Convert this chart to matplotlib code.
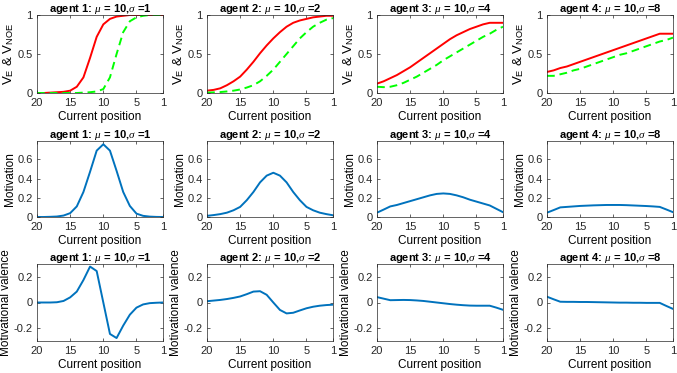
import matplotlib
matplotlib.use("Agg")
import matplotlib.pyplot as plt

plt.rcParams['font.family'] = ['Liberation Sans', 'DejaVu Sans']
plt.rcParams['mathtext.fontset'] = 'custom'
plt.rcParams['mathtext.it'] = 'Liberation Serif:italic'
plt.rcParams['mathtext.rm'] = 'Liberation Sans'

positions = list(range(20, 0, -1))  # 20 .. 1
sigmas = [1, 2, 4, 8]
mu = 10

# V_E (red, solid)
v_e = [
    [0.0, 0.0, 0.005, 0.01, 0.015, 0.03, 0.08, 0.2, 0.45, 0.72, 0.88, 0.95, 0.98, 0.99, 1.0, 1.0, 1.0, 1.0, 1.0, 1.0],
    [0.03, 0.04, 0.06, 0.1, 0.15, 0.21, 0.3, 0.4, 0.51, 0.61, 0.7, 0.78, 0.85, 0.9, 0.93, 0.95, 0.97, 0.98, 0.99, 0.99],
    [0.12, 0.15, 0.19, 0.23, 0.28, 0.33, 0.39, 0.45, 0.51, 0.57, 0.63, 0.69, 0.74, 0.78, 0.82, 0.85, 0.88, 0.9, 0.9, 0.9],
    [0.27, 0.29, 0.32, 0.34, 0.37, 0.40, 0.43, 0.46, 0.49, 0.52, 0.55, 0.58, 0.61, 0.64, 0.67, 0.70, 0.73, 0.76, 0.76, 0.76],
]
# V_NOE (green, dashed)
v_noe = [
    [0.0, 0.0, 0.0, 0.0, 0.0, 0.0, 0.0, 0.005, 0.01, 0.02, 0.05, 0.2, 0.5, 0.78, 0.92, 0.97, 0.99, 1.0, 1.0, 1.0],
    [0.005, 0.008, 0.012, 0.02, 0.03, 0.045, 0.07, 0.1, 0.15, 0.22, 0.3, 0.4, 0.5, 0.6, 0.7, 0.78, 0.85, 0.9, 0.94, 0.96],
    [0.08, 0.075, 0.08, 0.1, 0.13, 0.17, 0.21, 0.26, 0.31, 0.36, 0.42, 0.47, 0.52, 0.57, 0.62, 0.67, 0.72, 0.76, 0.81, 0.85],
    [0.22, 0.22, 0.24, 0.26, 0.29, 0.31, 0.34, 0.37, 0.40, 0.43, 0.46, 0.49, 0.51, 0.54, 0.57, 0.60, 0.63, 0.66, 0.68, 0.71],
]
# Motivation
motivation = [
    [0.0, 0.0, 0.002, 0.005, 0.015, 0.04, 0.11, 0.26, 0.47, 0.69, 0.756, 0.69, 0.48, 0.26, 0.115, 0.035, 0.012, 0.004, 0.001, 0.0],
    [0.012, 0.02, 0.03, 0.045, 0.07, 0.105, 0.175, 0.26, 0.36, 0.43, 0.46, 0.43, 0.36, 0.26, 0.175, 0.105, 0.07, 0.045, 0.03, 0.018],
    [0.045, 0.077, 0.11, 0.125, 0.145, 0.165, 0.185, 0.205, 0.225, 0.24, 0.245, 0.24, 0.225, 0.205, 0.18, 0.16, 0.14, 0.12, 0.085, 0.05],
    [0.045, 0.072, 0.10, 0.105, 0.11, 0.115, 0.118, 0.121, 0.123, 0.125, 0.125, 0.125, 0.123, 0.12, 0.117, 0.114, 0.11, 0.105, 0.078, 0.05],
]
# Motivational valence
valence = [
    [0.0, 0.0, 0.0, 0.002, 0.012, 0.04, 0.085, 0.175, 0.28, 0.245, 0.0, -0.245, -0.277, -0.18, -0.095, -0.04, -0.015, -0.005, -0.002, 0.0],
    [0.01, 0.015, 0.02, 0.027, 0.036, 0.047, 0.065, 0.085, 0.088, 0.06, 0.0, -0.058, -0.085, -0.08, -0.062, -0.045, -0.033, -0.025, -0.02, -0.017],
    [0.042, 0.03, 0.018, 0.019, 0.02, 0.019, 0.016, 0.012, 0.006, 0.0, -0.006, -0.012, -0.017, -0.021, -0.024, -0.025, -0.025, -0.025, -0.04, -0.057],
    [0.045, 0.025, 0.006, 0.005, 0.005, 0.004, 0.004, 0.003, 0.002, 0.001, 0.0, -0.001, -0.001, -0.002, -0.002, -0.003, -0.003, -0.003, -0.027, -0.05],
]

xticks = [20, 15, 10, 5, 1]
W, H = 677, 373
fig = plt.figure(figsize=(W / 100, H / 100), dpi=100)

col_left = [37, 207, 377, 547]
ax_w = 126
rows = [(15, 93), (141, 217), (264, 341)]

spine_c = '#262626'
blue = '#0072BD'

def style(ax, ylim, yticks, ylabels, ylabel, ysize=8.5):
    ax.set_xlim(20, 1)
    ax.set_ylim(*ylim)
    ax.set_xticks(xticks)
    ax.set_xticklabels([str(t) for t in xticks])
    ax.set_yticks(yticks)
    ax.set_yticklabels(ylabels)
    ax.tick_params(direction='in', length=2.5, width=0.5, labelsize=8,
                   top=True, right=True, colors=spine_c)
    ax.tick_params(axis='y', pad=3)
    ax.tick_params(axis='x', pad=3.5)
    for s in ax.spines.values():
        s.set_color(spine_c)
        s.set_linewidth(0.5)
    ax.set_xlabel('Current position', fontsize=8.5, labelpad=2.5, color='black')
    ax.set_ylabel(ylabel, fontsize=ysize, labelpad=1, color='black')

for i, sig in enumerate(sigmas):
    title = r'agent %d: $\mu$ = %d,$\sigma$ =%d' % (i + 1, mu, sig)
    axes = []
    for (top, bot) in rows:
        a = fig.add_axes([col_left[i] / W, 1 - bot / H, ax_w / W, (bot - top) / H])
        axes.append(a)
    a0, a1, a2 = axes
    a0.plot(positions, v_e[i], color='#ff0000', lw=1.4)
    a0.plot(positions, v_noe[i], color='#00ff00', lw=1.4, ls=(0, (4, 2.5)))
    style(a0, (0, 1), [0, 0.5, 1], ['0', '0.5', '1'],
          r'V$_{\rm E}$ & V$_{\rm NOE}$', ysize=9.5)

    a1.plot(positions, motivation[i], color=blue, lw=1.4)
    style(a1, (0, 0.79), [0, 0.2, 0.4, 0.6], ['0', '0.2', '0.4', '0.6'], 'Motivation')

    a2.plot(positions, valence[i], color=blue, lw=1.4)
    style(a2, (-0.3, 0.3), [-0.2, 0, 0.2], ['-0.2', '0', '0.2'], 'Motivational valence')

    for a in axes:
        a.set_title(title, fontsize=8, fontweight='bold', pad=2)

fig.savefig('out.png', dpi=100)
